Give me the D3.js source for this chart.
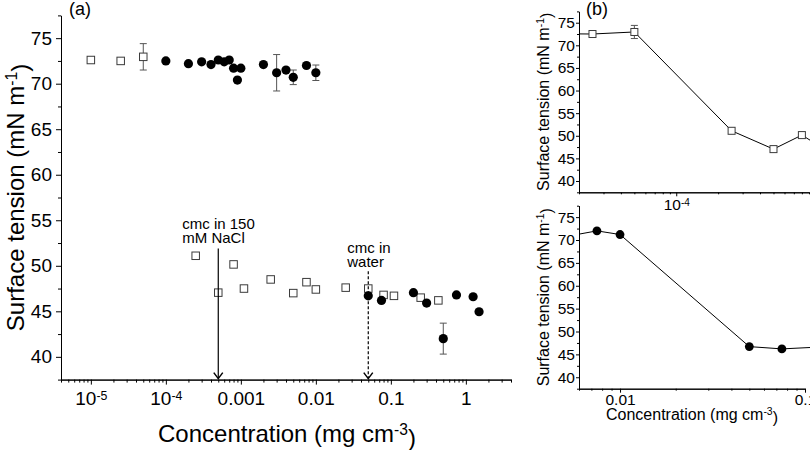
<!DOCTYPE html>
<html>
<head>
<meta charset="utf-8">
<script src="https://cdn.jsdelivr.net/npm/d3@7"></script>
<style>
  body { margin: 0; background: #fff; }
  svg text { font-family: "Liberation Sans", Arial, sans-serif; fill: #000; }
  .axis path, .axis line { stroke: #000; stroke-width: 1; }
</style>
</head>
<body>
<div id="chart"></div>
<script>

/* DATA: open squares (150 mM NaCl) */
const sqConc = [1e-5, 2.5e-5, 5e-5, 2.5e-4, 5e-4, 8e-4, 1.1e-3, 2.5e-3, 5e-3, 7.5e-3, 0.01, 0.025, 0.05, 0.08, 0.11, 0.25, 0.43];
const sqST   = [72.6, 72.5, 72.95, 51.1, 47.05, 50.15, 47.5, 48.5, 47.0, 48.2, 47.4, 47.6, 47.5, 46.8, 46.7, 46.5, 46.2];
const sqErr  = [0, 0, 1.45, 0, 0, 0, 0, 0, 0, 0, 0, 0, 0, 0, 0, 0, 0];

/* DATA: filled circles (water) */
const ciConc = [1e-4, 2e-4, 3e-4, 4e-4, 5e-4, 6e-4, 7e-4, 8e-4, 9e-4, 1e-3, 2e-3, 3e-3, 4e-3, 5e-3, 7.5e-3, 0.01, 0.05, 0.075, 0.2, 0.3, 0.5, 0.75, 1.25, 1.5];
const ciST   = [72.5, 72.2, 72.4, 72.1, 72.6, 72.4, 72.6, 71.7, 70.4, 71.7, 72.1, 71.2, 71.5, 70.7, 72.0, 71.2, 46.7, 46.2, 47.05, 45.9, 42.0, 46.8, 46.6, 44.95];
const ciErr  = [0, 0, 0, 0, 0, 0, 0, 0, 0, 0, 0, 2.0, 0, 0.8, 0, 0.85, 0, 0, 0, 0, 1.7, 0, 0, 0];

/* TICKS */
const yMajor = [40, 45, 50, 55, 60, 65, 70, 75];
const yMinor = [37.5, 42.5, 47.5, 52.5, 57.5, 62.5, 67.5, 72.5, 77.5];
const xMajorA = [1e-5, 1e-4, 1e-3, 0.01, 0.1, 1];
const xLabelsA = ["10|-5", "10|-4", "0.001", "0.01", "0.1", "1"];
const xMajorBt = [1e-4];
const xLabelsBt = ["10|-4"];
const xMajorBb = [0.01, 0.1];
const xLabelsBb = ["0.01", "0.1"];

/* ANNOTATIONS */
const cmcConc = [5e-4, 0.05];
const cmcTop = [51.9, 49.4];
const cmcText = [["cmc in 150", "mM NaCl"], ["cmc in", "water"]];

const width = 810, height = 450;
const svg = d3.select("#chart").append("svg")
    .attr("width", width).attr("height", height);

function minorLog(lo, hi) {
    const out = [];
    for (let e = Math.floor(Math.log10(lo)); e <= Math.ceil(Math.log10(hi)); e++) {
        for (let m = 2; m <= 9; m++) {
            const v = m * Math.pow(10, e);
            if (v >= lo * 0.999 && v <= hi * 1.001) out.push(v);
        }
    }
    return out;
}

function supText(sel, str) {
    const parts = str.split("|");
    sel.text(parts[0]);
    if (parts.length > 1) {
        sel.append("tspan").attr("dy", "-0.45em").attr("font-size", "0.65em").text(parts[1]);
    }
}

/* a generic panel: x log, y linear */
function panel(o) {
    const g = svg.append("g");
    const x = o.x, y = o.y;
    const [x0, x1] = x.range(), [y0, y1] = y.range();

    // x axis minor + major
    g.append("g").attr("class", "axis")
        .attr("transform", `translate(0,${y0})`)
        .call(d3.axisBottom(x).tickValues(minorLog(...x.domain())).tickSize(o.minorX).tickSizeOuter(0).tickFormat(""));
    const xa = g.append("g").attr("class", "axis")
        .attr("transform", `translate(0,${y0})`)
        .call(d3.axisBottom(x).tickValues(o.xMajor).tickSize(o.majorX).tickSizeOuter(0).tickPadding(o.xPad)
            .tickFormat((d, i) => o.xLabels[i]));
    xa.selectAll("text").attr("font-size", o.tickFont).each(function(d, i) { supText(d3.select(this), o.xLabels[i]); });

    // y axis minor + major
    g.append("g").attr("class", "axis")
        .attr("transform", `translate(${x0},0)`)
        .call(d3.axisLeft(y).tickValues(yMinor).tickSize(o.minorY).tickSizeOuter(0).tickFormat(""));
    const ya = g.append("g").attr("class", "axis")
        .attr("transform", `translate(${x0},0)`)
        .call(d3.axisLeft(y).tickValues(yMajor).tickSize(o.majorY).tickSizeOuter(0).tickPadding(o.yPad));
    ya.selectAll("text").attr("font-size", o.tickFont);
    g.selectAll(".axis text").attr("font-family", "Liberation Sans, Arial, sans-serif");

    // y title
    const yt = g.append("text")
        .attr("transform", `translate(${o.yTitleX},${(y0 + y1) / 2}) rotate(-90)`)
        .attr("text-anchor", "middle")
        .attr("font-size", o.titleFont)
        .text("Surface tension (mN m");
    yt.append("tspan").attr("dy", "-0.45em").attr("font-size", "0.65em").text("-1");
    yt.append("tspan").attr("dy", "0.45em").text(")");

    return g;
}

function xTitle(xc, yb, fs) {
    const t = svg.append("text")
        .attr("x", xc).attr("y", yb)
        .attr("text-anchor", "middle")
        .attr("font-size", fs)
        .text("Concentration (mg cm");
    t.append("tspan").attr("dy", "-0.45em").attr("font-size", "0.65em").text("-3");
    t.append("tspan").attr("dy", "0.45em").text(")");
}

function drawPoints(g, x, y, conc, st, err, kind, size, clip) {
    const pts = conc.map((c, i) => ({c: c, v: st[i], e: err[i]}));
    const gg = g.append("g");
    if (clip) gg.attr("clip-path", `url(#${clip})`);
    // error bars
    const eb = pts.filter(d => d.e > 0);
    gg.selectAll(".eb").data(eb).enter().append("path")
        .attr("d", d => {
            const cx = x(d.c), t = y(d.v + d.e), b = y(d.v - d.e);
            return `M${cx},${t}V${b}M${cx - 3.5},${t}H${cx + 3.5}M${cx - 3.5},${b}H${cx + 3.5}`;
        })
        .attr("stroke", "#555").attr("stroke-width", 1).attr("fill", "none");
    if (kind === "sq") {
        gg.selectAll(".sq").data(pts).enter().append("rect")
            .attr("x", d => x(d.c) - size / 2).attr("y", d => y(d.v) - size / 2)
            .attr("width", size).attr("height", size)
            .attr("fill", "#fff").attr("stroke", "#3a3a3a").attr("stroke-width", 1);
    } else {
        gg.selectAll(".ci").data(pts).enter().append("circle")
            .attr("cx", d => x(d.c)).attr("cy", d => y(d.v)).attr("r", size)
            .attr("fill", "#000");
    }
    return pts;
}

/* ---------- PANEL (a) ---------- */
const xA = d3.scaleLog().domain([4e-6, 4]).range([61, 511]);
const yA = d3.scaleLinear().domain([37.5, 77.5]).range([379.6, 15.4]);
const gA = panel({x: xA, y: yA, xMajor: xMajorA, xLabels: xLabelsA, minorX: 3, majorX: 5, xPad: 7,
    minorY: 3, majorY: 5, yPad: 4, tickFont: 19, titleFont: 24, yTitleX: 24});
xTitle(287, 442, 24);
svg.append("text").attr("x", 69).attr("y", 15).attr("font-size", 18).text("(a)");

drawPoints(gA, xA, yA, sqConc, sqST, sqErr, "sq", 7.5);
drawPoints(gA, xA, yA, ciConc, ciST, ciErr, "ci", 4.6);

// cmc arrows
cmcConc.forEach((c, i) => {
    const ax = xA(c), top = yA(cmcTop[i]), tip = yA(37.5);
    gA.append("line").attr("x1", ax).attr("x2", ax).attr("y1", top).attr("y2", tip - 1)
        .attr("stroke", "#000").attr("stroke-width", 1.2)
        .attr("stroke-dasharray", i === 1 ? "3,2" : null);
    gA.append("path").attr("d", `M${ax - 4.5},${tip - 7}L${ax},${tip - 1}L${ax + 4.5},${tip - 7}`)
        .attr("fill", "none").attr("stroke", "#000").attr("stroke-width", 1.5);
});
const ann = [{x: xA(cmcConc[0]) - 36, y: 229, fs: 15}, {x: xA(cmcConc[1]) - 21, y: 253, fs: 15}];
ann.forEach((a, i) => {
    const t = gA.append("text").attr("x", a.x).attr("y", a.y).attr("font-size", a.fs);
    t.append("tspan").attr("x", a.x).text(cmcText[i][0]);
    t.append("tspan").attr("x", a.x).attr("dy", 13.5).text(cmcText[i][1]);
});

/* ---------- PANEL (b) top ---------- */
const xBt = d3.scaleLog().domain([2e-5, 9e-4]).range([579, 809]);
const yBt = d3.scaleLinear().domain([37.5, 77.5]).range([192.3, 11.4]);
const gBt = panel({x: xBt, y: yBt, xMajor: xMajorBt, xLabels: xLabelsBt, minorX: 2, majorX: 4, xPad: 3,
    minorY: 2, majorY: 3, yPad: 1, tickFont: 15.5, titleFont: 16, yTitleX: 549});
svg.append("text").attr("x", 586).attr("y", 15).attr("font-size", 18).text("(b)");

svg.append("clipPath").attr("id", "clipBt").append("rect")
    .attr("x", 579).attr("y", 0).attr("width", 231).attr("height", 200);
const line = (x, y) => d3.line().x(d => x(d.c)).y(d => y(d.v));
const sqPts = sqConc.map((c, i) => ({c: c, v: sqST[i]}));
gBt.append("path").datum(sqPts).attr("clip-path", "url(#clipBt)")
    .attr("d", line(xBt, yBt)).attr("fill", "none").attr("stroke", "#000").attr("stroke-width", 1);
drawPoints(gBt, xBt, yBt, sqConc, sqST, sqErr, "sq", 7, "clipBt");

/* ---------- PANEL (b) bottom ---------- */
const xBb = d3.scaleLog().domain([0.006, 0.1]).range([579, 805]);
const yBb = d3.scaleLinear().domain([37.5, 77.5]).range([388.7, 205.7]);
const gBb = panel({x: xBb, y: yBb, xMajor: xMajorBb, xLabels: xLabelsBb, minorX: 2, majorX: 4, xPad: 1,
    minorY: 2, majorY: 3, yPad: 1, tickFont: 15.5, titleFont: 16, yTitleX: 549});
xTitle(692, 420, 16);

svg.append("clipPath").attr("id", "clipBb").append("rect")
    .attr("x", 579).attr("y", 200).attr("width", 231).attr("height", 200);
const ciPts = ciConc.map((c, i) => ({c: c, v: ciST[i]}));
gBb.append("path").datum(ciPts).attr("clip-path", "url(#clipBb)")
    .attr("d", line(xBb, yBb)).attr("fill", "none").attr("stroke", "#000").attr("stroke-width", 1);
drawPoints(gBb, xBb, yBb, ciConc, ciST, ciErr.map(() => 0), "ci", 4.4, "clipBb");

</script>
</body>
</html>
